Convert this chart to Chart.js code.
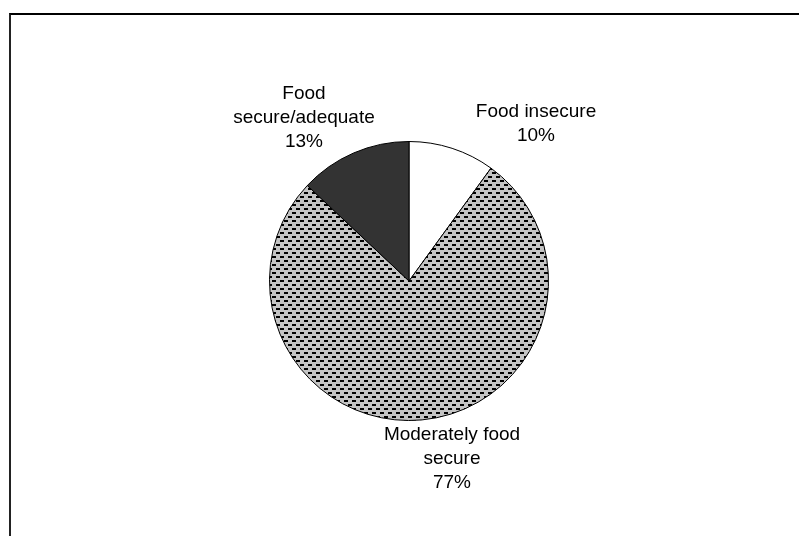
<!DOCTYPE html>
<html lang="en">
<head>
<meta charset="UTF-8">
<title>Food security</title>
<script src="https://cdn.jsdelivr.net/npm/chart.js"></script>
<style>
  html, body { margin: 0; padding: 0; background: #fff; overflow: hidden; }
  .frame { position: absolute; left: 9px; top: 13px; width: 800px; height: 540px;
           border-top: 2px solid #000; border-left: 2px solid #222; box-sizing: border-box; }
  #pie { position: absolute; left: 0; top: 0; }
</style>
</head>
<body>
<div class="frame"></div>
<canvas id="pie" width="799" height="536"></canvas>

<script>
  const categories = ['Food insecure', 'Moderately food secure', 'Food secure/adequate'];
  const shares = [10, 77, 13];
  // label lines as they wrap in the picture
  const labelLines = [
    ['Food insecure', '10%'],
    ['Moderately food', 'secure', '77%'],
    ['Food', 'secure/adequate', '13%']
  ];
  // where each label block sits, relative to the pie centre
  const labelOffsets = [[127, -157], [43, 178], [-105, -163]];

  // dotted grey fill for the big slice
  function dashPattern() {
    const c = document.createElement('canvas');
    c.width = 8; c.height = 8;
    const g = c.getContext('2d');
    g.fillStyle = '#c4c4c4';
    g.fillRect(0, 0, 8, 8);
    g.fillStyle = '#000';
    g.fillRect(0, 0, 4, 2);
    g.fillRect(4, 4, 4, 2);
    return g.createPattern(c, 'repeat');
  }

  const sliceLabels = {
    id: 'sliceLabels',
    afterDatasetsDraw(chart) {
      const ctx = chart.ctx;
      const arcs = chart.getDatasetMeta(0).data;
      ctx.save();
      ctx.font = '19px "Liberation Sans", Arial, sans-serif';
      ctx.fillStyle = '#000';
      ctx.textAlign = 'center';
      ctx.textBaseline = 'middle';
      arcs.forEach((arc, i) => {
        const lines = labelLines[i];
        const cx = arc.x + labelOffsets[i][0];
        const cy = arc.y + labelOffsets[i][1];
        const lh = 24;
        lines.forEach((t, k) => {
          ctx.fillText(t, cx, cy + (k - (lines.length - 1) / 2) * lh);
        });
      });
      ctx.restore();
    }
  };

  new Chart(document.getElementById('pie'), {
    type: 'pie',
    data: {
      labels: categories,
      datasets: [{
        data: shares,
        backgroundColor: ['#ffffff', dashPattern(), '#333333'],
        borderColor: '#000',
        borderWidth: 1
      }]
    },
    options: {
      responsive: false,
      animation: false,
      layout: { padding: { left: 268, right: 249, top: 141, bottom: 115 } },
      plugins: {
        legend: { display: false },
        tooltip: { enabled: false }
      }
    },
    plugins: [sliceLabels]
  });
</script>
</body>
</html>
